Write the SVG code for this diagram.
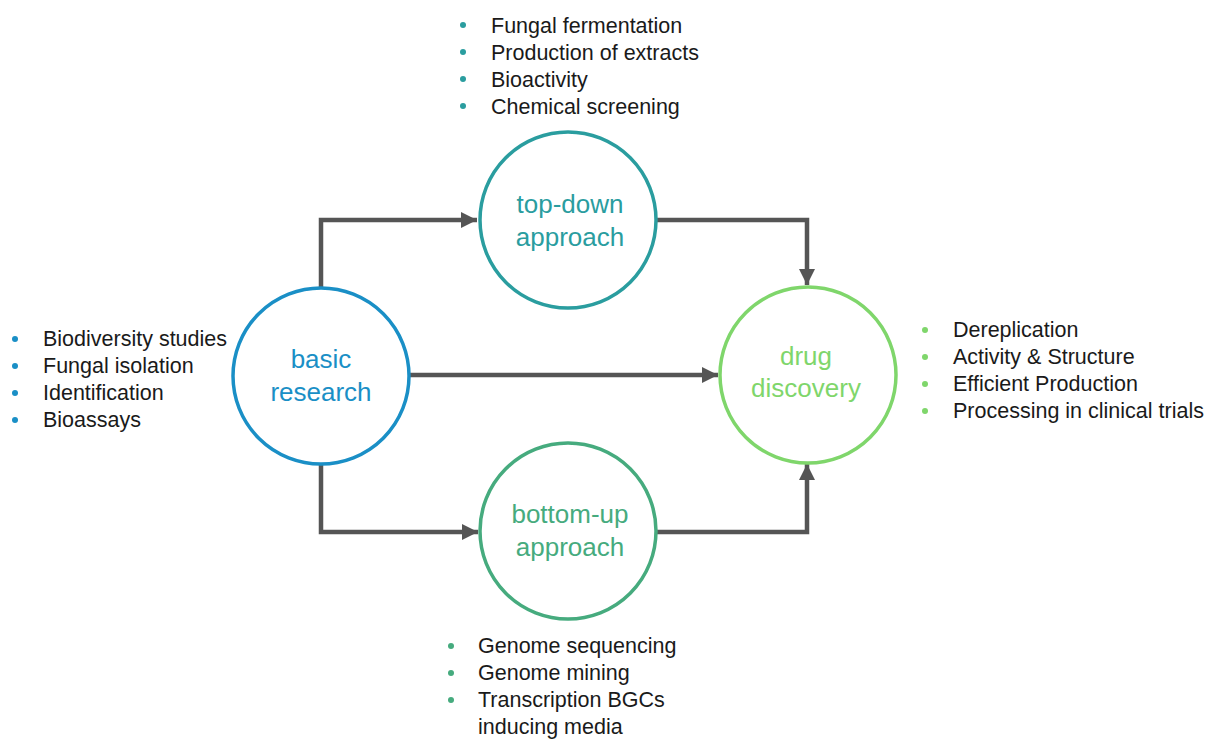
<svg xmlns="http://www.w3.org/2000/svg" width="1207" height="740" viewBox="0 0 1207 740">
<style>
.node{fill:none;stroke-width:3.5}
.lbl{font-family:"Liberation Sans",Arial,sans-serif;font-size:26px;text-anchor:middle}
.item{font-family:"Liberation Sans",Arial,sans-serif;font-size:21.5px;fill:#1a1a1a}
.conn{fill:none;stroke:#555;stroke-width:4.5;stroke-linejoin:miter}
</style>
<defs>
<marker id="ah" viewBox="0 0 10 10" refX="10" refY="5" markerWidth="3.6" markerHeight="3.6" orient="auto" markerUnits="strokeWidth">
<path d="M0,0 L10,5 L0,10 z" fill="#555"/>
</marker>
</defs>
<rect width="1207" height="740" fill="#fff"/>
<g id="connectors">
<path class="conn" d="M321,287 V220 H477" marker-end="url(#ah)"/>
<path class="conn" d="M657,220 H807 V285" marker-end="url(#ah)"/>
<path class="conn" d="M410,375 H718" marker-end="url(#ah)"/>
<path class="conn" d="M321,465 V532 H478" marker-end="url(#ah)"/>
<path class="conn" d="M657,532 H807 V464" marker-end="url(#ah)"/>
</g>
<g id="basic-research">
<circle class="node" cx="321" cy="376" r="88" stroke="#1a8fc6"/>
<text class="lbl" fill="#1a8fc6" x="321" y="368">basic</text>
<text class="lbl" fill="#1a8fc6" x="321" y="401">research</text>
</g>
<g id="top-down">
<circle class="node" cx="568" cy="220" r="88" stroke="#2a9d9f"/>
<text class="lbl" fill="#2a9d9f" x="570" y="213">top-down</text>
<text class="lbl" fill="#2a9d9f" x="570" y="246">approach</text>
</g>
<g id="bottom-up">
<circle class="node" cx="568" cy="531" r="88" stroke="#46ab7e"/>
<text class="lbl" fill="#46ab7e" x="570" y="523">bottom-up</text>
<text class="lbl" fill="#46ab7e" x="570" y="556">approach</text>
</g>
<g id="drug-discovery">
<circle class="node" cx="808" cy="375" r="88" stroke="#7fd66b"/>
<text class="lbl" fill="#7fd66b" x="806" y="365">drug</text>
<text class="lbl" fill="#7fd66b" x="806" y="397">discovery</text>
</g>
<g id="list-top">
<circle cx="463" cy="25" r="3" fill="#2a9d9f"/>
<circle cx="463" cy="52" r="3" fill="#2a9d9f"/>
<circle cx="463" cy="79" r="3" fill="#2a9d9f"/>
<circle cx="463" cy="106" r="3" fill="#2a9d9f"/>
<text class="item" x="491" y="33">Fungal fermentation</text>
<text class="item" x="491" y="60">Production of extracts</text>
<text class="item" x="491" y="87">Bioactivity</text>
<text class="item" x="491" y="114">Chemical screening</text>
</g>
<g id="list-left">
<circle cx="15" cy="339" r="3" fill="#1a8fc6"/>
<circle cx="15" cy="366" r="3" fill="#1a8fc6"/>
<circle cx="15" cy="393" r="3" fill="#1a8fc6"/>
<circle cx="15" cy="420" r="3" fill="#1a8fc6"/>
<text class="item" x="43" y="346">Biodiversity studies</text>
<text class="item" x="43" y="373">Fungal isolation</text>
<text class="item" x="43" y="400">Identification</text>
<text class="item" x="43" y="427">Bioassays</text>
</g>
<g id="list-right">
<circle cx="925" cy="330" r="3" fill="#7fd66b"/>
<circle cx="925" cy="357" r="3" fill="#7fd66b"/>
<circle cx="925" cy="384" r="3" fill="#7fd66b"/>
<circle cx="925" cy="411" r="3" fill="#7fd66b"/>
<text class="item" x="953" y="337">Dereplication</text>
<text class="item" x="953" y="364">Activity &amp; Structure</text>
<text class="item" x="953" y="391">Efficient Production</text>
<text class="item" x="953" y="418">Processing in clinical trials</text>
</g>
<g id="list-bottom">
<circle cx="451" cy="646" r="3" fill="#46ab7e"/>
<circle cx="451" cy="673" r="3" fill="#46ab7e"/>
<circle cx="451" cy="700" r="3" fill="#46ab7e"/>
<text class="item" x="478" y="653">Genome sequencing</text>
<text class="item" x="478" y="680">Genome mining</text>
<text class="item" x="478" y="707">Transcription BGCs</text>
<text class="item" x="478" y="734">inducing media</text>
</g>
</svg>
